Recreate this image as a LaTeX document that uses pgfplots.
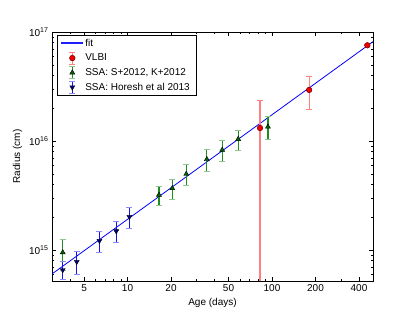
\documentclass[border=0pt]{standalone}
\usepackage{fontspec}
\setmainfont{Liberation Sans}
\usepackage{pgfplots}
\pgfplotsset{compat=1.18}
\definecolor{fitblue}{RGB}{0,0,255}
\definecolor{legblue}{RGB}{30,30,255}
\definecolor{errred}{RGB}{255,128,128}
\definecolor{mred}{RGB}{240,0,0}
\definecolor{mgreen}{RGB}{0,100,0}
\definecolor{egreen}{RGB}{34,139,34}
\definecolor{cgreen}{RGB}{140,200,140}
\definecolor{mblue}{RGB}{0,0,128}
\definecolor{eblue}{RGB}{20,20,230}
\definecolor{cblue}{RGB}{140,140,255}
\pgfplotsset{
  errlegend/.style n args={3}{legend image code/.code={
    \draw[draw=#1,line width=1.1bp] (11bp,-6bp)--(11bp,6bp);
    \draw[draw=#2,line width=1bp] (8bp,-6bp)--(14bp,-6bp) (8bp,6bp)--(14bp,6bp);
    \draw[mark repeat=2,mark phase=2] plot coordinates {(0bp,0bp)(11bp,0bp)(22bp,0bp)};
  }}
}
\begin{document}
\begin{tikzpicture}
\path[use as bounding box] (0,0) rectangle (415bp,313bp);
\begin{axis}[
  at={(52bp,32bp)}, anchor=south west,
  scale only axis, width=321bp, height=249bp,
  xmode=log, ymode=log,
  xmin=3, xmax=500, ymin=5.2e14, ymax=1e17,
  xtick={5,10,20,50,100,200,400},
  xticklabels={5,10,20,50,100,200,400},
  minor xtick={3,4,6,7,8,9,30,40,60,70,80,90,300},
  ytick={1e15,1e16,1e17},
  yticklabels={10\textsuperscript{15},10\textsuperscript{16},10\textsuperscript{17}},
  minor ytick={6e14,7e14,8e14,9e14,2e15,3e15,4e15,5e15,6e15,7e15,8e15,9e15,2e16,3e16,4e16,5e16,6e16,7e16,8e16,9e16},
  tick align=inside, major tick length=4bp, minor tick length=2bp,
  every tick/.style={black, line width=0.5bp},
  axis line style={line width=0.8bp},
  /pgf/number format/assume math mode=true,
  tick label style={font=\fontsize{10bp}{12bp}\selectfont},
  label style={font=\fontsize{10bp}{12bp}\selectfont},
  xlabel={Age (days)}, ylabel={Radius (cm)},
  legend style={at={(0.0156,0.988)}, anchor=north west, draw=black, line width=0.6bp,
    font=\fontsize{10bp}{12bp}\selectfont, row sep=1.5bp, inner xsep=4bp, inner ysep=2bp},
  legend cell align=left,
]
\addplot[draw=fitblue, line width=0.8bp, legend image code/.code={\path[fill=legblue, draw=none] (0bp,-0.4bp) rectangle (22bp,1.3bp);}]
  coordinates {(3,6.03e14) (500,8.15e16)};
\addlegendentry{fit}

\addplot[only marks, mark=*, mark size=2.8bp, mark options={fill=mred, draw=red!45!black, line width=0.5bp},
  errlegend={errred}{errred}{},
  error bars/.cd, y dir=both, y explicit,
  error bar style={errred, line width=1.2bp},
  error mark options={rotate=90, mark size=3bp, errred, line width=1bp}]
  coordinates {
    (82.6,1.316e16) += (0,1.06e16) -= (0,1.31e16)
    (180.7,2.94e16) += (0,0.95e16) -= (0,0.99e16)
    (457,7.55e16) +- (0,0.1e16)
  };
\addlegendentry{VLBI}

\addplot[only marks, mark=triangle*, mark size=2.9bp, mark options={fill=mgreen, draw=black, line width=0.4bp},
  errlegend={egreen}{cgreen}{},
  error bars/.cd, y dir=both, y explicit,
  error bar style={egreen, line width=1.2bp},
  error mark options={rotate=90, mark size=3bp, cgreen, line width=1bp}]
  coordinates {
    (3.56,9.5e14) +- (0,0.3e15)
    (16.5,3.2e15) +- (0,0.65e15)
    (20.4,3.68e15) +- (0,0.8e15)
    (25.5,4.98e15) +- (0,1.1e15)
    (35.4,6.8e15) +- (0,1.6e15)
    (45.2,8.27e15) +- (0,1.8e15)
    (58.3,1.04e16) +- (0,0.22e16)
    (93.7,1.35e16) +- (0,0.32e16)
  };
\addlegendentry{SSA: S+2012, K+2012}

\addplot[only marks, mark=triangle*, mark size=2.9bp, mark options={rotate=180, fill=mblue, draw=black, line width=0.4bp},
  errlegend={eblue}{cblue}{},
  error bars/.cd, y dir=both, y explicit,
  error bar style={eblue, line width=1.2bp},
  error mark options={rotate=90, mark size=3bp, cblue, line width=1bp}]
  coordinates {
    (3.56,6.56e14) +- (0,1.25e14)
    (4.45,7.81e14) +- (0,1.8e14)
    (6.39,1.217e15) +- (0,0.27e15)
    (8.35,1.49e15) +- (0,0.33e15)
    (10.3,2.02e15) +- (0,0.45e15)
  };
\addlegendentry{SSA: Horesh et al 2013}
\end{axis}
\end{tikzpicture}
\end{document}
